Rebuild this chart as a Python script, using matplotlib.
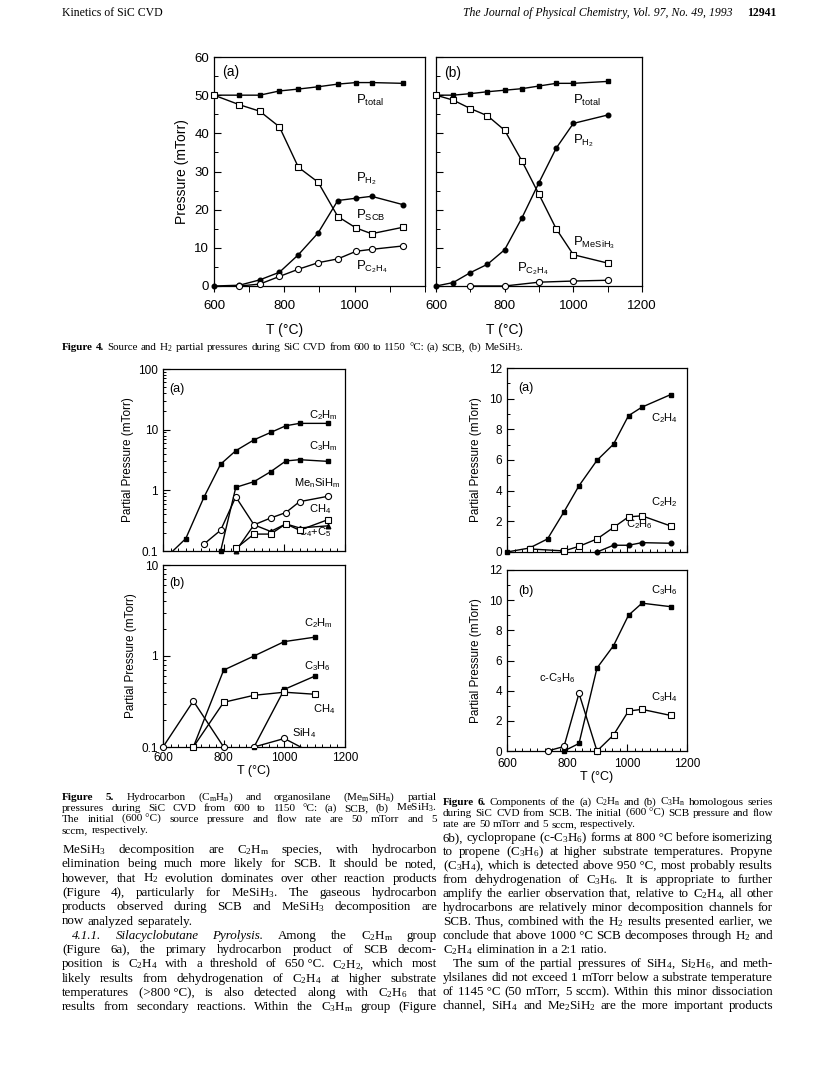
import matplotlib
matplotlib.use('Agg')
import matplotlib.pyplot as plt
from matplotlib.ticker import MultipleLocator, NullFormatter, FixedLocator, FixedFormatter

plt.rcParams['font.family'] = ['Liberation Sans', 'DejaVu Sans']
plt.rcParams['mathtext.default'] = 'regular'
plt.rcParams['axes.linewidth'] = 0.9
plt.rcParams['xtick.major.width'] = 0.8
plt.rcParams['ytick.major.width'] = 0.8
plt.rcParams['xtick.minor.width'] = 0.7
plt.rcParams['ytick.minor.width'] = 0.7

# ---- Figure 4 data ----
t4a = [600, 672, 730, 786, 840, 896, 952, 1004, 1048, 1138]
ptot_a = [50, 50, 50, 51.1, 51.6, 52.2, 52.9, 53.3, 53.3, 53.1]
pscb = [50, 47.5, 45.8, 41.7, 31.1, 27.2, 18.2, 15.2, 13.7, 15.4]
ph2_a = [0, 0.2, 1.6, 3.6, 8.2, 13.9, 22.4, 23.0, 23.5, 21.3]
t4a_c2h4 = [672, 730, 786, 840, 896, 952, 1004, 1048, 1138]
pc2h4_a = [0, 0.5, 2.5, 4.4, 6.1, 7.1, 9.1, 9.6, 10.5]

t4b = [600, 650, 700, 750, 800, 850, 900, 950, 1000, 1100]
ptot_b = [50, 50, 50.4, 50.9, 51.3, 51.7, 52.4, 53.1, 53.1, 53.6]
pmesih3 = [50, 48.7, 46.5, 44.6, 40.8, 32.8, 24.0, 15.0, 8.2, 6.0]
ph2_b = [0, 0.9, 3.5, 5.7, 9.5, 17.8, 27.1, 36.1, 42.6, 44.8]
t4b_c2h4 = [700, 800, 900, 1000, 1100]
pc2h4_b = [0, 0, 1.0, 1.3, 1.5]

# ---- Figure 5 data ----
t5a = [600, 675, 735, 790, 840, 900, 955, 1005, 1050, 1145]
c2hm_a = [0.07, 0.16, 0.77, 2.7, 4.5, 6.8, 9.0, 11.6, 12.7, 12.7]
t5a_c3 = [790, 840, 900, 955, 1005, 1050, 1145]
c3hm_a = [0.1, 1.12, 1.39, 2.03, 3.05, 3.2, 3.0]
t5a_si = [735, 790, 840, 900, 955, 1005, 1050, 1145]
mensihm = [0.13, 0.22, 0.78, 0.27, 0.35, 0.43, 0.65, 0.80]
t5a_ch4 = [840, 900, 955, 1005, 1050, 1145]
ch4_a = [0.11, 0.19, 0.19, 0.28, 0.22, 0.33]
c4c5 = [0.1, 0.27, 0.21, 0.28, 0.24, 0.26]

t5b_c2 = [700, 800, 900, 1000, 1100]
c2hm_b = [0.1, 0.70, 1.0, 1.44, 1.61]
t5b_c3 = [900, 1000, 1100]
c3h6_b = [0.1, 0.43, 0.60]
ch4_b = [0.1, 0.31, 0.37, 0.40, 0.38]
t5b_o = [600, 700, 800]
other_b = [0.1, 0.32, 0.1]
sih4_b = [0.1, 0.124, 0.083]

# ---- Figure 6 data ----
t6 = [600, 675, 735, 790, 840, 900, 955, 1005, 1050, 1145]
c2h4_6 = [0, 0.26, 0.85, 2.62, 4.32, 5.98, 7.03, 8.89, 9.45, 10.26]
t6_c2h2 = [675, 790, 840, 900, 955, 1005, 1050, 1145]
c2h2_6 = [0.2, 0.07, 0.37, 0.85, 1.6, 2.29, 2.36, 1.70]
t6_c2h6 = [900, 955, 1005, 1050, 1145]
c2h6_6 = [0, 0.44, 0.44, 0.61, 0.57]

t6_c3h6 = [790, 840, 900, 955, 1005, 1050, 1145]
c3h6_6 = [0, 0.5, 5.5, 6.98, 9.0, 9.8, 9.57]
t6_cyc = [735, 790, 840, 900]
cc3h6_6 = [0, 0.3, 3.82, 0]
t6_c3h4 = [900, 955, 1005, 1050, 1145]
c3h4_6 = [0, 1.06, 2.65, 2.76, 2.36]

W, H = 820, 1068
fig = plt.figure(figsize=(8.2, 10.68), dpi=100)


def box(l, t, r, b):
    return fig.add_axes([l / W, 1 - b / H, (r - l) / W, (b - t) / H])


def curve(ax, x, y, m, filled, clip=False):
    if filled:
        ax.plot(x, y, '-', color='k', lw=1.0, marker=m, ms=3.3, mfc='k', mec='k',
                clip_on=clip, zorder=3)
    else:
        ax.plot(x, y, '-', color='k', lw=1.0, marker=m, ms=4.4, mfc='white', mec='k',
                mew=0.8, clip_on=clip, zorder=4)


def ftext(x, y, s, **kw):
    return fig.text(x / W, 1 - y / H, s, **kw)


# ================= Figure 4 =================
ax4a = box(214, 57, 425, 286)
ax4b = box(436, 57, 642, 286)
for ax in (ax4a, ax4b):
    ax.set_xlim(600, 1200)
    ax.set_ylim(0, 60)
    ax.xaxis.set_major_locator(MultipleLocator(200))
    ax.xaxis.set_minor_locator(MultipleLocator(100))
    ax.yaxis.set_major_locator(MultipleLocator(10))
    ax.yaxis.set_minor_locator(MultipleLocator(5))
    ax.tick_params(axis='x', which='both', direction='out', length=4, labelsize=9.5, pad=6)
    ax.tick_params(axis='y', which='major', direction='in', length=5, labelsize=9.5)
    ax.tick_params(axis='y', which='minor', direction='in', length=3)
ax4a.set_xticks([600, 800, 1000])
ax4b.yaxis.set_major_formatter(NullFormatter())
ax4a.set_ylabel('Pressure (mTorr)', fontsize=10, labelpad=4)

curve(ax4a, t4a, ptot_a, 's', True)
curve(ax4a, t4a, pscb, 's', False)
curve(ax4a, t4a, ph2_a, 'o', True)
curve(ax4a, t4a_c2h4, pc2h4_a, 'o', False)
ax4a.text(622, 56, '(a)', fontsize=10, va='center')
ax4a.text(1005, 47.8, 'P$_{total}$', fontsize=9.5, va='baseline')
ax4a.text(1005, 27.3, 'P$_{H_2}$', fontsize=9.5, va='baseline')
ax4a.text(1005, 17.6, 'P$_{SCB}$', fontsize=9.5, va='baseline')
ax4a.text(1005, 4.3, 'P$_{C_2H_4}$', fontsize=9.5, va='baseline')

curve(ax4b, t4b, ptot_b, 's', True)
curve(ax4b, t4b, pmesih3, 's', False)
curve(ax4b, t4b, ph2_b, 'o', True)
curve(ax4b, t4b_c2h4, pc2h4_b, 'o', False)
ax4b.text(623, 55.7, '(b)', fontsize=10, va='center')
ax4b.text(1000, 47.6, 'P$_{total}$', fontsize=9.5, va='baseline')
ax4b.text(1000, 37.4, 'P$_{H_2}$', fontsize=9.5, va='baseline')
ax4b.text(1000, 10.6, 'P$_{MeSiH_3}$', fontsize=9.5, va='baseline')
ax4b.text(835, 3.9, 'P$_{C_2H_4}$', fontsize=9.5, va='baseline')

for ax in (ax4a, ax4b):
    ax.text(800, -0.19, 'T (°C)', transform=ax.get_xaxis_transform(),
            ha='center', va='center', fontsize=10)

# ================= Figure 5 =================
ax5a = box(163, 369, 345, 551)
ax5b = box(163, 565, 345, 747)
for ax, top in ((ax5a, 100), (ax5b, 10)):
    ax.set_xlim(600, 1200)
    ax.set_yscale('log')
    ax.set_ylim(0.1, top)
    ticks = [0.1, 1, 10, 100] if top == 100 else [0.1, 1, 10]
    ax.yaxis.set_major_locator(FixedLocator(ticks))
    ax.yaxis.set_major_formatter(FixedFormatter([('%g' % v) for v in ticks]))
    ax.yaxis.set_minor_formatter(NullFormatter())
    ax.xaxis.set_major_locator(MultipleLocator(200))
    ax.xaxis.set_minor_locator(MultipleLocator(25))
    ax.tick_params(which='major', direction='in', length=5, labelsize=8.5)
    ax.tick_params(which='minor', direction='in', length=2.5)
    ax.set_ylabel('Partial Pressure (mTorr)', fontsize=8.5, labelpad=3)
ax5a.xaxis.set_major_formatter(NullFormatter())
ax5b.set_xlabel('T (°C)', fontsize=9, labelpad=1)

curve(ax5a, t5a, c2hm_a, 's', True, clip=True)
curve(ax5a, t5a_c3, c3hm_a, 's', True)
curve(ax5a, t5a_ch4, c4c5, '^', True)
curve(ax5a, t5a_si, mensihm, 'o', False)
curve(ax5a, t5a_ch4, ch4_a, 's', False)
ax5a.text(622, 47, '(a)', fontsize=9, va='center')
ax5a.text(1082, 15.4, 'C$_2$H$_m$', fontsize=8, va='baseline')
ax5a.text(1082, 4.75, 'C$_3$H$_m$', fontsize=8, va='baseline')
ax5a.text(1033, 1.15, 'Me$_n$SiH$_m$', fontsize=8, va='baseline')
ax5a.text(1082, 0.43, 'CH$_4$', fontsize=8, va='baseline')
ax5a.text(1046, 0.185, 'C$_4$+C$_5$', fontsize=8, va='baseline')

curve(ax5b, t5b_c2, c2hm_b, 's', True)
curve(ax5b, t5b_c3, c3h6_b, 's', True)
curve(ax5b, t5b_c2, ch4_b, 's', False)
curve(ax5b, t5b_o, other_b, 'o', False)
curve(ax5b, t5b_c3, sih4_b, 'o', False, clip=True)
ax5b.text(622, 6.3, '(b)', fontsize=9, va='center')
ax5b.text(1065, 2.1, 'C$_2$H$_m$', fontsize=8, va='baseline')
ax5b.text(1065, 0.72, 'C$_3$H$_6$', fontsize=8, va='baseline')
ax5b.text(1093, 0.243, 'CH$_4$', fontsize=8, va='baseline')
ax5b.text(1024, 0.133, 'SiH$_4$', fontsize=8, va='baseline')

# ================= Figure 6 =================
ax6a = box(507, 368, 687, 552)
ax6b = box(507, 570, 687, 751)
for ax in (ax6a, ax6b):
    ax.set_xlim(600, 1200)
    ax.set_ylim(0, 12)
    ax.xaxis.set_major_locator(MultipleLocator(200))
    ax.xaxis.set_minor_locator(MultipleLocator(25))
    ax.yaxis.set_major_locator(MultipleLocator(2))
    ax.yaxis.set_minor_locator(MultipleLocator(1))
    ax.tick_params(which='major', direction='in', length=5, labelsize=8.5)
    ax.tick_params(which='minor', direction='in', length=2.5)
    ax.set_ylabel('Partial Pressure (mTorr)', fontsize=8.5, labelpad=5)
ax6a.xaxis.set_major_formatter(NullFormatter())
ax6b.tick_params(axis='x', which='major', pad=5)
ax6b.set_xlabel('T (°C)', fontsize=9, labelpad=1)

curve(ax6a, t6, c2h4_6, 's', True)
curve(ax6a, t6_c2h6, c2h6_6, 'o', True)
curve(ax6a, t6_c2h2, c2h2_6, 's', False)
ax6a.text(637, 10.7, '(a)', fontsize=9, va='center')
ax6a.text(1081, 8.5, 'C$_2$H$_4$', fontsize=8, va='baseline')
ax6a.text(1081, 3.06, 'C$_2$H$_2$', fontsize=8, va='baseline')
ax6a.text(998, 1.6, 'C$_2$H$_6$', fontsize=8, va='baseline')

curve(ax6b, t6_c3h6, c3h6_6, 's', True)
curve(ax6b, t6_cyc, cc3h6_6, 'o', False)
curve(ax6b, t6_c3h4, c3h4_6, 's', False)
ax6b.text(639, 10.6, '(b)', fontsize=9, va='center')
ax6b.text(1080, 10.45, 'C$_3$H$_6$', fontsize=8, va='baseline')
ax6b.text(706, 4.66, 'c-C$_3$H$_6$', fontsize=8, va='baseline')
ax6b.text(1080, 3.38, 'C$_3$H$_4$', fontsize=8, va='baseline')

# ================= page text =================
renderer = fig.canvas.get_renderer()


def put_line(x0, x1, y, line, size, justify=True, indent=0):
    objs = []
    for w in line.split():
        kw = dict(fontsize=size, family=['Liberation Serif', 'DejaVu Serif'],
                  va='baseline', ha='left')
        if w[0] == '#':
            kw['weight'] = 'bold'
            w = w[1:]
        elif w[0] == '~':
            kw['style'] = 'italic'
            w = w[1:]
        objs.append(ftext(0, 0, w.replace('|', ' '), **kw))
    ws = [o.get_window_extent(renderer).width for o in objs]
    if justify and len(objs) > 1:
        gap = max((x1 - x0 - indent - sum(ws)) / (len(objs) - 1), 1.2)
    else:
        gap = 0.27 * size * 100 / 72
    x = x0 + indent
    for o, w in zip(objs, ws):
        o.set_position((x / W, 1 - y / H))
        x += w + gap


ftext(62, 16, 'Kinetics of SiC CVD', fontsize=8.5, family='Liberation Serif', va='baseline')
ftext(733, 16, 'The Journal of Physical Chemistry, Vol. 97, No. 49, 1993', fontsize=8.5,
      family='Liberation Serif', style='italic', va='baseline', ha='right')
ftext(776, 16, '12941', fontsize=8.5, family='Liberation Serif', weight='bold',
      va='baseline', ha='right')

put_line(62, 437, 350, '#Figure #4. Source and H$_2$ partial pressures during SiC CVD from '
         '600 to 1150 °C: (a) SCB, (b) MeSiH$_3$.', 7.9, justify=False)

cap5 = [
    '#Figure #5. Hydrocarbon (C$_m$H$_n$) and organosilane (Me$_m$SiH$_n$) partial',
    'pressures during SiC CVD from 600 to 1150 °C: (a) SCB, (b) MeSiH$_3$.',
    'The initial (600|°C) source pressure and flow rate are 50 mTorr and 5',
    'sccm, respectively.',
]
for i, line in enumerate(cap5):
    put_line(62, 437, 800 + i * 11, line, 8.1, justify=(i != 3))

cap6 = [
    '#Figure #6. Components of the (a) C$_2$H$_n$ and (b) C$_3$H$_n$ homologous series',
    'during SiC CVD from SCB. The initial (600|°C) SCB pressure and flow',
    'rate are 50 mTorr and 5 sccm, respectively.',
]
for i, line in enumerate(cap6):
    put_line(443, 773, 805 + i * 11, line, 8.0, justify=(i != 2))

left_body = [
    'MeSiH$_3$ decomposition are C$_2$H$_m$ species, with hydrocarbon',
    'elimination being much more likely for SCB. It should be noted,',
    'however, that H$_2$ evolution dominates over other reaction products',
    '(Figure 4), particularly for MeSiH$_3$. The gaseous hydrocarbon',
    'products observed during SCB and MeSiH$_3$ decomposition are',
    'now analyzed separately.',
    '~4.1.1. ~Silacyclobutane ~Pyrolysis. Among the C$_2$H$_m$ group',
    '(Figure 6a), the primary hydrocarbon product of SCB decom-',
    'position is C$_2$H$_4$ with a threshold of 650|°C. C$_2$H$_2$, which most',
    'likely results from dehydrogenation of C$_2$H$_4$ at higher substrate',
    'temperatures (>800|°C), is also detected along with C$_2$H$_6$ that',
    'results from secondary reactions. Within the C$_3$H$_m$ group (Figure',
]
for i, line in enumerate(left_body):
    put_line(62, 437, 853 + i * 14.3, line, 9.4, justify=(i != 5),
             indent=10 if i == 6 else 0)

right_body = [
    '6b), cyclopropane (c-C$_3$H$_6$) forms at 800|°C before isomerizing',
    'to propene (C$_3$H$_6$) at higher substrate temperatures. Propyne',
    '(C$_3$H$_4$), which is detected above 950|°C, most probably results',
    'from dehydrogenation of C$_3$H$_6$. It is appropriate to further',
    'amplify the earlier observation that, relative to C$_2$H$_4$, all other',
    'hydrocarbons are relatively minor decomposition channels for',
    'SCB. Thus, combined with the H$_2$ results presented earlier, we',
    'conclude that above 1000|°C SCB decomposes through H$_2$ and',
    'C$_2$H$_4$ elimination in a 2:1 ratio.',
    'The sum of the partial pressures of SiH$_4$, Si$_2$H$_6$, and meth-',
    'ylsilanes did not exceed 1 mTorr below a substrate temperature',
    'of 1145|°C (50 mTorr, 5 sccm). Within this minor dissociation',
    'channel, SiH$_4$ and Me$_2$SiH$_2$ are the more important products',
]
for i, line in enumerate(right_body):
    put_line(443, 773, 841 + i * 14.0, line, 9.4, justify=(i != 8),
             indent=10 if i == 9 else 0)

fig.savefig('out.png', dpi=100)
